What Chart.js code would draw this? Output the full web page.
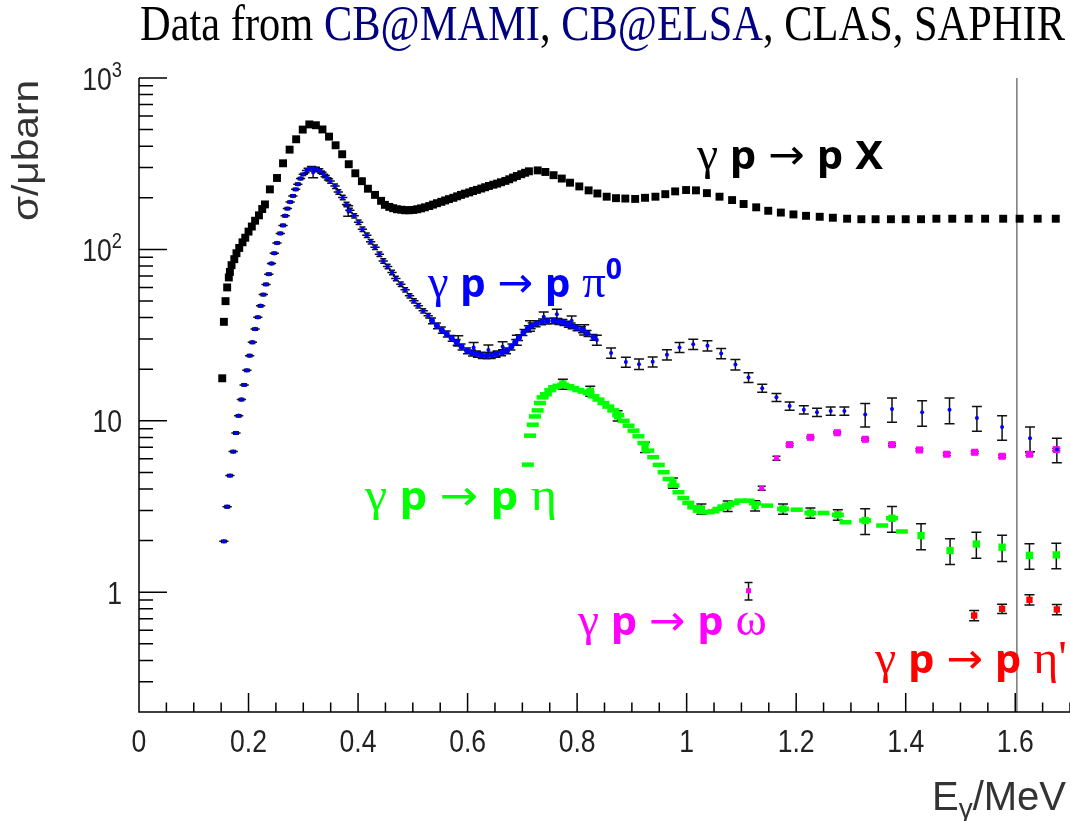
<!DOCTYPE html>
<html>
<head>
<meta charset="utf-8">
<script src="https://cdn.jsdelivr.net/npm/chart.js@4.4.1/dist/chart.umd.min.js"></script>
<style>
  html, body { margin: 0; padding: 0; background: #fff; overflow: hidden; }
  #wrap { width: 1070px; height: 821px; position: relative; }
</style>
</head>
<body>
<div id="wrap"><canvas id="xsec"></canvas></div>
<script>
// total photoabsorption gamma p -> p X
var pXEnergy = [0.152,0.155,0.158,0.161,0.164,0.166,0.169,0.174,0.178,0.183,0.189,0.194,0.200,0.206,0.212,0.219,0.225,0.230,0.239,0.252,0.263,0.275,0.287,0.299,0.311,0.323,0.335,0.347,0.359,0.371,0.383,0.395,0.407,0.418,0.431,0.442,
  0.449,0.457,0.464,0.471,0.479,0.486,0.493,0.501,0.508,0.515,0.522,0.530,0.537,0.544,0.552,0.559,0.566,0.574,0.581,0.588,0.595,0.603,0.610,0.617,0.625,0.632,0.639,0.647,0.654,0.661,0.669,0.676,0.683,0.690,0.698,0.705,0.712,
  0.728,0.742,0.757,0.772,0.787,0.804,0.821,0.837,0.854,0.871,0.888,0.906,0.924,0.943,0.961,0.979,0.999,1.017,1.037,1.060,1.083,1.104,1.127,1.149,1.172,1.195,1.218,1.243,1.267,1.293,1.319,1.345,1.373,1.400,1.428,1.456,1.485,1.515,1.545,1.578,1.608,1.641,1.674];
var pXSigma = [17.7,37.8,49.9,60.0,68.6,73.9,80.9,87.7,95.0,102,110,117,127,136,147,158,172,183,224,261,318,382,439,500,536,530,501,455,405,359,314,278,250,226,208,192,
  182,177,174,171.5,170.4,169.2,169.2,169.9,171.5,173.5,176,179,182.5,186,189.5,193,196.5,200,204,208,211.5,215,219,222.5,226.5,230.5,234.5,238.5,242,246.5,251,256.5,262.5,268,274.5,280,285.5,
  289,283,271,259,245,233,221,212,203,199,198,197,200,203,210,218,222,221,213,203,194,184,176,168,164,160,157,155,153,151,150,150,150,150,150,151,151,151,151,151,151,151,151];

// gamma p -> p pi0, low energy part (CB@MAMI)
var pi0LowEnergy = [0.155,0.161,0.166,0.172,0.177,0.182,0.187,0.192,0.197,0.202,0.207,0.212,0.217,0.222,0.227,0.232,0.237,0.242,0.247,0.252,0.258,0.263,0.267,0.271,0.276,0.281,0.286,0.290,0.295,0.300,
  0.306,0.312,0.318,0.325,0.331,0.337,0.343,0.349,0.358,0.364,0.372,0.379,0.385,0.393,0.401,0.408,0.416,0.423,0.431,0.439,0.446,0.454,0.462,0.469,0.478,0.486,0.494,0.502,0.510,0.519,0.528];
var pi0LowSigma = [1.98,3.15,4.79,6.61,8.49,10.7,13.3,16.2,19.7,24.0,28.7,34.3,40.2,46.9,54.5,62.5,71.7,82.8,95.0,109,124,138,157,173,189,205,224,240,259,274,
  289,296,296,293,287,274,262,251,234,216,201,183,169,157,144,131,121,111,103,93.8,85.7,79.5,73.3,67.7,62.7,58.1,53.6,50.1,46.9,43.8,41.0];
var pi0LowErr = [0.03,0.05,0.07,0.1,0.13,0.16,0.2,0.25,0.3,0.36,0.43,0.5,0.6,0.7,0.8,0.9,1.1,1.2,1.4,1.6,1.9,2.1,2.4,2.6,2.8,3.1,3.4,3.6,3.9,4.1,
  8.7,8.9,8.9,8.8,8.6,8.2,7.9,7.5,7.0,6.5,6.0,5.5,5.1,4.7,4.3,3.9,3.6,3.3,3.1,2.8,2.6,2.4,2.2,2.0,1.9,1.7,1.6,1.5,1.4,1.3,1.2];
var pi0BinHalfWidth = 0.0085;

// gamma p -> p pi0, second resonance region
var pi0MidEnergy = [0.535,0.544,0.553,0.562,0.571,0.580,0.589,0.599,0.608,0.617,0.626,0.635,0.644,0.653,0.663,0.672,0.680,0.687,0.694,0.702,0.710,0.717,0.726,0.736,0.746,0.757,0.766,0.775,0.783,0.790,0.799,0.809,0.819,0.830];
var pi0MidSigma = [38.3,35.8,33.8,32.1,30.3,28.7,27.0,25.6,24.9,24.5,24.1,24.0,24.1,24.5,25.0,25.6,27.0,28.7,30.6,32.8,34.4,35.8,36.9,37.8,38.2,38.3,38.0,37.5,36.6,35.8,34.9,34.0,32.3,30.7];
var pi0MidErr = [1.5,1.4,1.4,1.3,1.2,1.1,1.1,1.0,1.0,1.0, 1.0,1.0,1.0,1.0,1.0,1.0,1.1,1.1,1.2,1.3, 1.4,1.4,1.5,1.5,1.5,1.5,1.5,1.5,1.5,1.4, 1.4,1.4,1.3,1.2];

// gamma p -> p pi0, higher energies (ELSA / CLAS)
var pi0HighEnergy = [0.862,0.889,0.913,0.938,0.964,0.987,1.012,1.038,1.063,1.089,1.113,1.138,1.164,1.188,1.214,1.238,1.263,1.288,1.326,1.375,1.430,1.480,1.530,1.576,1.627,1.676];
var pi0HighSigma = [24.9,22.0,21.4,22.1,24.3,26.8,28.0,27.4,24.7,21.3,17.9,15.5,13.7,12.2,11.6,11.2,11.4,11.4,10.9,11.7,11.2,11.6,10.4,9.2,7.9,6.8];
var pi0HighErr = [1.7,1.5,1.5,1.5,1.7,1.8,1.9,1.9,1.7,1.5,1.2,0.85,0.75,0.67,0.64,0.62,0.63,0.63,1.7,1.9,1.9,2.0,1.7,1.5,1.3,1.1];

// gamma p -> p pi0, additional points with larger errors
var pi0ExtraEnergy = [0.318,0.382,0.583,0.611,0.638,0.664,0.690,0.714,0.739,0.763,0.790,0.813,0.836];
var pi0ExtraSigma = [281,168,29.3,26.8,25.9,27.0,29.6,35.8,40.4,41.9,38.3,34.0,29.6];
var pi0ExtraErr = [19,12,2.0,1.8,1.8,1.9,2.0,2.5,2.8,2.9,2.6,2.3,2.0];

// gamma p -> p eta, dense data
var etaEnergy = [0.710,0.714,0.719,0.723,0.728,0.732,0.737,0.743,0.751,0.758,0.766,0.775,0.784,0.793,0.802,0.812,0.821,0.830,0.839,0.848,
  0.857,0.866,0.875,0.885,0.894,0.903,0.912,0.921,0.930,0.939,0.949,0.958,0.967,0.976,0.985,0.994,1.003,1.012,1.022,1.031,
  1.040,1.049,1.058,1.067,1.076,1.086,1.098,1.113,1.125,1.147,1.176,1.201,1.226,1.250,1.276,1.290,1.326,1.357,1.375,1.393];
var etaSigma = [5.55,8.19,9.49,10.6,11.5,12.7,13.7,14.3,15.1,15.7,16.0,16.2,15.9,15.5,15.1,14.8,14.5,13.9,13.3,12.7,
  12.1,11.5,10.8,10.0,9.36,8.76,8.12,7.42,6.70,6.13,5.53,5.01,4.58,4.19,3.83,3.54,3.32,3.13,2.99,2.93,
  2.93,2.97,3.06,3.16,3.23,3.32,3.42,3.42,3.30,3.20,3.06,3.03,2.90,2.90,2.83,2.56,2.62,2.45,2.70,2.26];

// gamma p -> p eta, points with error bars
var etaBEnergy = [0.774,0.824,0.874,0.924,0.975,1.027,1.075,1.125,1.176,1.226,1.276,1.326,1.375,1.428,1.481,1.529,1.576,1.626,1.675];
var etaBSigma = [16.4,14.9,10.7,7.01,4.34,3.06,3.18,3.20,3.06,2.90,2.83,2.62,2.70,2.14,1.75,1.91,1.83,1.64,1.65];
var etaBErr = [1.1,1.0,0.74,0.48,0.30,0.21,0.22,0.22,0.21,0.20,0.20,0.45,0.46,0.37,0.30,0.33,0.32,0.28,0.28];

// gamma p -> p omega
var omegaEnergy = [1.113,1.137,1.164,1.188,1.226,1.275,1.326,1.375,1.425,1.475,1.526,1.576,1.626,1.675];
var omegaSigma = [1.02,4.04,6.05,7.26,8.01,8.52,7.80,7.26,6.76,6.38,6.55,6.21,6.38,6.79];
var omegaErr = [0.12,0.11,0.16,0.1,0.1,0.1,0.1,0.1,0.1,0.1,0.1,0.1,0.1,0.1];

// gamma p -> p eta'
var etaPrimeEnergy = [1.525,1.576,1.626,1.676];
var etaPrimeSigma = [0.731,0.800,0.903,0.793];
var etaPrimeErr = [0.05,0.05,0.062,0.055];

// axis ticks
var xTickValues = [0,0.2,0.4,0.6,0.8,1,1.2,1.4,1.6];
var xTickLabels = ['0','0.2','0.4','0.6','0.8','1','1.2','1.4','1.6'];
var yTickValues = [1,10,100,1000];
var yTickBase = ['1','10','10','10'];
var yTickExp = ['','','2','3'];

function pts(xs, ys) {
  return xs.map(function (x, i) { return { x: x, y: ys[i] }; });
}

// draw a row of text pieces squeezed into [left,right]
function drawParts(ctx, parts, left, right, baseline) {
  var total = 0;
  parts.forEach(function (p) { ctx.font = p.font; p.w = ctx.measureText(p.text).width; total += p.w; });
  var sx = (right - left) / total;
  ctx.save();
  ctx.textAlign = 'left';
  ctx.textBaseline = 'alphabetic';
  ctx.translate(left, baseline);
  ctx.scale(sx, 1);
  var cx = 0;
  parts.forEach(function (p) {
    ctx.font = p.font;
    ctx.fillStyle = p.color;
    ctx.fillText(p.text, cx, p.dy || 0);
    cx += p.w;
  });
  ctx.restore();
}

function reaction(color, tail) {
  var ser = '46px "Liberation Serif"', bold = 'bold 40px "Noto Sans"';
  var parts = [
    { text: 'γ ', font: ser },
    { text: 'p', font: bold },
    { text: ' ', font: ser },
    { text: '→', font: '42px "DejaVu Sans"' },
    { text: ' ', font: ser },
    { text: 'p', font: bold },
    { text: ' ', font: ser }
  ].concat(tail);
  parts.forEach(function (p) { p.color = color; if (p.font === 'S') p.font = ser; if (p.font === 'B') p.font = bold; });
  return parts;
}

var errorBars = {
  id: 'errorBars',
  beforeDatasetsDraw: function (chart) {
    var ctx = chart.ctx, xs = chart.scales.x, ys = chart.scales.y, a = chart.chartArea;
    ctx.save();
    ctx.beginPath();
    ctx.rect(a.left, a.top, a.right - a.left, a.bottom - a.top);
    ctx.clip();
    ctx.lineWidth = 1.5;
    // vertical marker line
    var vx = xs.getPixelForValue(1.603);
    ctx.beginPath();
    ctx.strokeStyle = '#777';
    ctx.moveTo(vx, a.top);
    ctx.lineTo(vx, a.bottom);
    ctx.stroke();
    ctx.strokeStyle = '#111';
    chart.data.datasets.forEach(function (ds) {
      if (!ds.yErr && !ds.xErr) return;
      var cap = ds.capW || 0;
      ctx.beginPath();
      ds.data.forEach(function (p, j) {
        var px = xs.getPixelForValue(p.x), py = ys.getPixelForValue(p.y);
        if (ds.yErr) {
          var e = ds.yErr[j];
          var top = ys.getPixelForValue(p.y + e);
          var bot = ys.getPixelForValue(Math.max(p.y - e, 0.01));
          ctx.moveTo(px, top); ctx.lineTo(px, bot);
          if (cap) {
            ctx.moveTo(px - cap, top); ctx.lineTo(px + cap, top);
            ctx.moveTo(px - cap, bot); ctx.lineTo(px + cap, bot);
          }
        }
        if (ds.xErr) {
          ctx.moveTo(xs.getPixelForValue(p.x - ds.xErr), py);
          ctx.lineTo(xs.getPixelForValue(p.x + ds.xErr), py);
        }
      });
      ctx.stroke();
    });
    ctx.restore();
  }
};

var rootAxes = {
  id: 'rootAxes',
  afterDraw: function (chart) {
    var ctx = chart.ctx, a = chart.chartArea, xs = chart.scales.x, ys = chart.scales.y;
    ctx.save();
    ctx.strokeStyle = '#000';
    ctx.lineWidth = 1.5;
    ctx.beginPath();
    ctx.moveTo(a.left, a.top);
    ctx.lineTo(a.left, a.bottom);
    ctx.lineTo(a.right, a.bottom);
    // x ticks point into the frame
    for (var k = 0; k <= 34; k++) {
      var px = xs.getPixelForValue(k * 0.05);
      var len = (k % 4 === 0) ? 19 : 9.5;
      ctx.moveTo(px, a.bottom);
      ctx.lineTo(px, a.bottom - len);
    }
    // y ticks, decades long, 2..9 short
    for (var d = -1; d <= 3; d++) {
      for (var m = 1; m <= 9; m++) {
        var v = m * Math.pow(10, d);
        if (v < 0.2 || v > 1000) continue;
        var py = ys.getPixelForValue(v);
        ctx.moveTo(a.left, py);
        ctx.lineTo(a.left + (m === 1 ? 28 : 14), py);
      }
    }
    ctx.stroke();

    // tick labels
    ctx.fillStyle = '#222';
    ctx.textBaseline = 'alphabetic';
    xTickValues.forEach(function (v, i) {
      ctx.save();
      ctx.translate(xs.getPixelForValue(v), 752);
      ctx.scale(0.83, 1);
      ctx.font = '32px "Liberation Sans"';
      ctx.textAlign = 'center';
      ctx.fillText(xTickLabels[i], 0, 0);
      ctx.restore();
    });
    yTickValues.forEach(function (v, i) {
      var py = ys.getPixelForValue(v);
      ctx.save();
      ctx.translate(122, py + 11.5);
      ctx.scale(0.83, 1);
      ctx.textAlign = 'right';
      var ex = yTickExp[i];
      var ew = 0;
      if (ex) {
        ctx.font = '22px "Liberation Sans"';
        ew = ctx.measureText(ex).width;
        ctx.fillText(ex, 0, -13);
      }
      ctx.font = '32px "Liberation Sans"';
      ctx.fillText(yTickBase[i], -ew, 0);
      ctx.restore();
    });

    // title
    drawParts(ctx, [
      { text: 'Data from ', font: '50px "Liberation Serif"', color: '#000' },
      { text: 'CB@MAMI', font: '50px "Liberation Serif"', color: '#000080' },
      { text: ', ', font: '50px "Liberation Serif"', color: '#000' },
      { text: 'CB@ELSA', font: '50px "Liberation Serif"', color: '#000080' },
      { text: ', CLAS, SAPHIR', font: '50px "Liberation Serif"', color: '#000' }
    ], 140, 1065, 40);

    // axis titles
    drawParts(ctx, [
      { text: 'E', font: '40px "Liberation Sans"', color: '#333' },
      { text: 'γ', font: '28px "Liberation Sans"', color: '#333', dy: 8 },
      { text: '/MeV', font: '40px "Liberation Sans"', color: '#333' }
    ], 932, 1066, 810);
    ctx.save();
    ctx.translate(38, 221);
    ctx.rotate(-Math.PI / 2);
    drawParts(ctx, [{ text: 'σ/μbarn', font: '36px "Liberation Sans"', color: '#333' }], 0, 141, 0);
    ctx.restore();

    // reaction labels
    drawParts(ctx, reaction('#000', [{ text: 'X', font: 'B' }]), 697, 883, 169);
    drawParts(ctx, reaction('#0000ff', [{ text: 'π', font: 'S' }, { text: '0', font: 'bold 28px "Noto Sans"', dy: -18 }]), 428, 622, 297);
    drawParts(ctx, reaction('#00ff00', [{ text: 'η', font: 'S' }]), 365, 557, 510);
    drawParts(ctx, reaction('#ff00ff', [{ text: 'ω', font: 'S' }]), 578, 767, 635);
    drawParts(ctx, reaction('#ff0000', [{ text: 'η', font: 'S' }, { text: "'", font: 'S' }]), 875, 1067, 673);
    ctx.restore();
  }
};

var datasets = [
  { label: 'γp→pX', data: pts(pXEnergy, pXSigma), pointStyle: 'rect', pointRadius: 5.6, pointBorderWidth: 0,
    backgroundColor: '#000', borderColor: '#000' },
  { label: 'γp→pπ0 mid', data: pts(pi0MidEnergy, pi0MidSigma), yErr: pi0MidErr, capW: 4,
    pointStyle: 'circle', pointRadius: 3, pointBorderWidth: 0, backgroundColor: '#0000ff', borderColor: '#0000ff' },
  { label: 'γp→pπ0 low', data: pts(pi0LowEnergy, pi0LowSigma), yErr: pi0LowErr, xErr: pi0BinHalfWidth, capW: 3,
    pointStyle: 'circle', pointRadius: 2.2, pointBorderWidth: 0, backgroundColor: '#0000ff', borderColor: '#0000ff' },
  { label: 'γp→pπ0 high', data: pts(pi0HighEnergy, pi0HighSigma), yErr: pi0HighErr, capW: 5,
    pointStyle: 'circle', pointRadius: 2, pointBorderWidth: 0, backgroundColor: '#0000ff', borderColor: '#0000ff' },
  { label: 'γp→pπ0 extra', data: pts(pi0ExtraEnergy, pi0ExtraSigma), yErr: pi0ExtraErr, capW: 5,
    pointStyle: 'circle', pointRadius: 2, pointBorderWidth: 0, backgroundColor: '#0000ff', borderColor: '#0000ff' },
  { label: 'γp→pη err', data: pts(etaBEnergy, etaBSigma), yErr: etaBErr, capW: 5,
    pointStyle: 'rect', pointRadius: 5.2, pointBorderWidth: 0, backgroundColor: '#00ff00', borderColor: '#00ff00' },
  { label: 'γp→pη', data: pts(etaEnergy, etaSigma),
    pointStyle: 'line', pointRadius: 6, pointBorderWidth: 4.5, backgroundColor: '#00ff00', borderColor: '#00ff00' },
  { label: 'γp→pω', data: pts(omegaEnergy, omegaSigma), yErr: omegaErr, capW: 4,
    pointStyle: 'rect', pointRadius: [3.5,3.5,3.5,5,5,5,5,5,5,5,5,5,5,5], pointBorderWidth: 0, backgroundColor: '#ff00ff', borderColor: '#ff00ff' },
  { label: "γp→pη'", data: pts(etaPrimeEnergy, etaPrimeSigma), yErr: etaPrimeErr, capW: 5,
    pointStyle: 'rect', pointRadius: 4.5, pointBorderWidth: 0, backgroundColor: '#ff0000', borderColor: '#ff0000' }
];

new Chart(document.getElementById('xsec'), {
  type: 'scatter',
  data: { datasets: datasets },
  options: {
    responsive: true,
    maintainAspectRatio: false,
    animation: false,
    events: [],
    layout: { autoPadding: false, padding: { top: 78, right: 0, bottom: 0, left: 0 } },
    plugins: { legend: { display: false }, tooltip: { enabled: false }, title: { display: false } },
    scales: {
      x: {
        type: 'linear', min: 0, max: 1.7,
        grid: { display: false, drawTicks: false },
        border: { display: false },
        ticks: { display: false },
        afterFit: function (s) { s.height = 109; }
      },
      y: {
        type: 'logarithmic', min: 0.2, max: 1000,
        grid: { display: false, drawTicks: false },
        border: { display: false },
        ticks: { display: false },
        afterFit: function (s) { s.width = 139; }
      }
    }
  },
  plugins: [errorBars, rootAxes]
});
</script>
</body>
</html>
